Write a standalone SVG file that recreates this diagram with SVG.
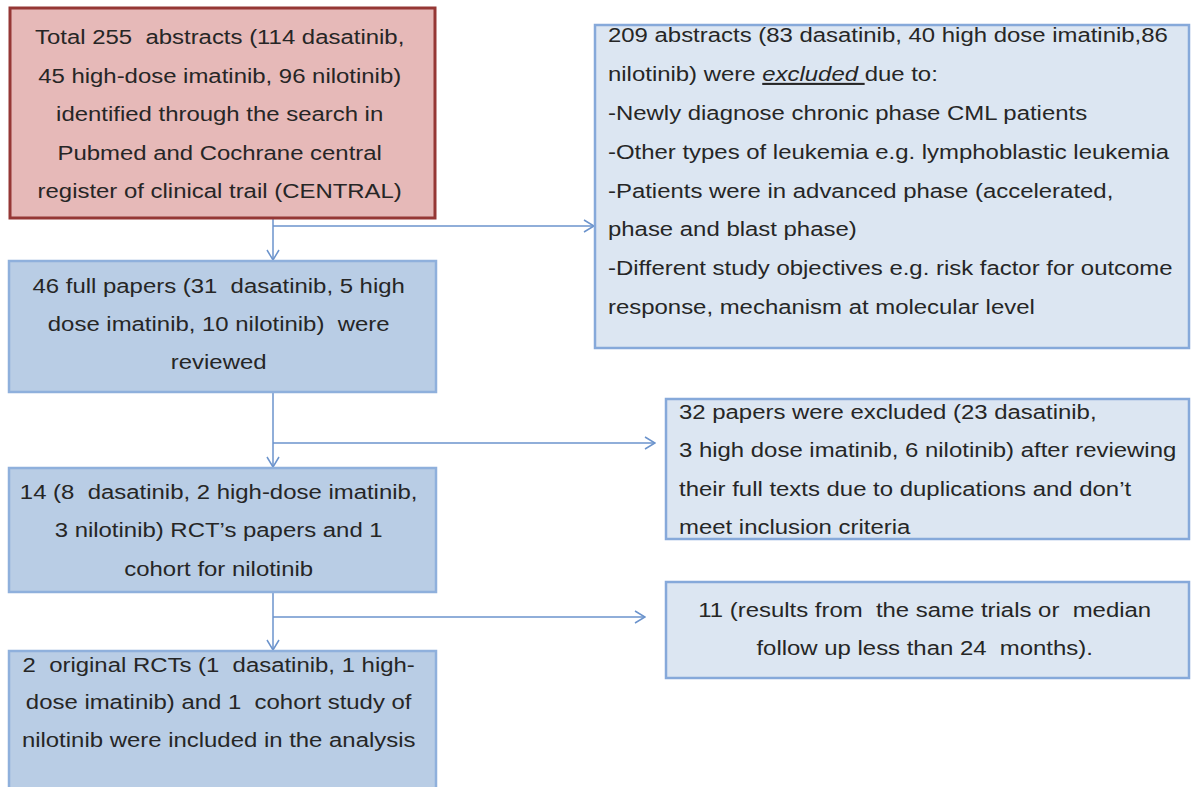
<svg xmlns="http://www.w3.org/2000/svg" width="1191" height="787" viewBox="0 0 1191 787">
<defs>
<style>
.t{font-family:"Liberation Sans",Arial,sans-serif;font-size:21px;fill:#262626;white-space:pre}
.c{text-anchor:middle}
.red{fill:#e6b9b8;stroke:#953735;stroke-width:3}
.dark{fill:#b9cde5;stroke:#8fb0dc;stroke-width:2.5}
.light{fill:#dce6f2;stroke:#86a9da;stroke-width:2.5}
.conn{fill:none;stroke:#6b93cc;stroke-width:1.5}
</style>
<marker id="arr" markerUnits="userSpaceOnUse" markerWidth="12" markerHeight="14" viewBox="0 0 12 14" refX="11" refY="7" orient="auto">
<path d="M1,1 L11,7 L1,13" fill="none" stroke="#6b93cc" stroke-width="1.5"/>
</marker>
</defs>
<rect width="1191" height="787" fill="#ffffff"/>

<g id="connectors">
<path class="conn" d="M273,218 V260" marker-end="url(#arr)"/>
<path class="conn" d="M273,226 H594" marker-end="url(#arr)"/>
<path class="conn" d="M273,392 V467" marker-end="url(#arr)"/>
<path class="conn" d="M273,443 H655" marker-end="url(#arr)"/>
<path class="conn" d="M273,592 V650" marker-end="url(#arr)"/>
<path class="conn" d="M273,617 H645" marker-end="url(#arr)"/>
</g>

<g id="n_total">
<rect class="red" x="10" y="8" width="425" height="210"/>
<text class="t c" transform="translate(223,0) scale(1.14,1)">
<tspan x="0" y="44">Total 255  abstracts (114 dasatinib,</tspan>
<tspan x="0" y="83">45 high-dose imatinib, 96 nilotinib)</tspan>
<tspan x="0" y="121">identified through the search in</tspan>
<tspan x="0" y="160">Pubmed and Cochrane central</tspan>
<tspan x="0" y="198">register of clinical trail (CENTRAL)</tspan>
</text>
</g>

<g id="n_excluded_abstracts">
<rect class="light" x="595" y="25" width="594" height="323"/>
<text class="t" transform="translate(608,0) scale(1.14,1)">
<tspan x="0" y="42">209 abstracts (83 dasatinib, 40 high dose imatinib,86</tspan>
<tspan x="0" y="81">nilotinib) were <tspan font-style="italic" text-decoration="underline">excluded </tspan>due to:</tspan>
<tspan x="0" y="120">-Newly diagnose chronic phase CML patients</tspan>
<tspan x="0" y="159">-Other types of leukemia e.g. lymphoblastic leukemia</tspan>
<tspan x="0" y="198">-Patients were in advanced phase (accelerated,</tspan>
<tspan x="0" y="236">phase and blast phase)</tspan>
<tspan x="0" y="275">-Different study objectives e.g. risk factor for outcome</tspan>
<tspan x="0" y="314">response, mechanism at molecular level</tspan>
</text>
</g>

<g id="n_full_papers">
<rect class="dark" x="9" y="261" width="427" height="131"/>
<text class="t c" transform="translate(222,0) scale(1.14,1)">
<tspan x="0" y="293">46 full papers (31  dasatinib, 5 high</tspan>
<tspan x="0" y="331">dose imatinib, 10 nilotinib)  were</tspan>
<tspan x="0" y="369">reviewed</tspan>
</text>
</g>

<g id="n_excluded_papers">
<rect class="light" x="666" y="399" width="523" height="140"/>
<text class="t" transform="translate(679,0) scale(1.14,1)">
<tspan x="0" y="419">32 papers were excluded (23 dasatinib,</tspan>
<tspan x="0" y="457">3 high dose imatinib, 6 nilotinib) after reviewing</tspan>
<tspan x="0" y="496">their full texts due to duplications and don’t</tspan>
<tspan x="0" y="534">meet inclusion criteria</tspan>
</text>
</g>

<g id="n_rct_papers">
<rect class="dark" x="9" y="468" width="427" height="124"/>
<text class="t c" transform="translate(222,0) scale(1.14,1)">
<tspan x="0" y="499">14 (8  dasatinib, 2 high-dose imatinib,</tspan>
<tspan x="0" y="537">3 nilotinib) RCT’s papers and 1</tspan>
<tspan x="0" y="576">cohort for nilotinib</tspan>
</text>
</g>

<g id="n_excluded_11">
<rect class="light" x="666" y="582" width="523" height="96"/>
<text class="t c" transform="translate(928,0) scale(1.14,1)">
<tspan x="0" y="617">11 (results from  the same trials or  median</tspan>
<tspan x="0" y="655">follow up less than 24  months).</tspan>
</text>
</g>

<g id="n_included">
<rect class="dark" x="9" y="651" width="427" height="150"/>
<text class="t c" transform="translate(222,0) scale(1.14,1)">
<tspan x="0" y="672">2  original RCTs (1  dasatinib, 1 high-</tspan>
<tspan x="0" y="709">dose imatinib) and 1  cohort study of</tspan>
<tspan x="0" y="747">nilotinib were included in the analysis</tspan>
</text>
</g>
</svg>
